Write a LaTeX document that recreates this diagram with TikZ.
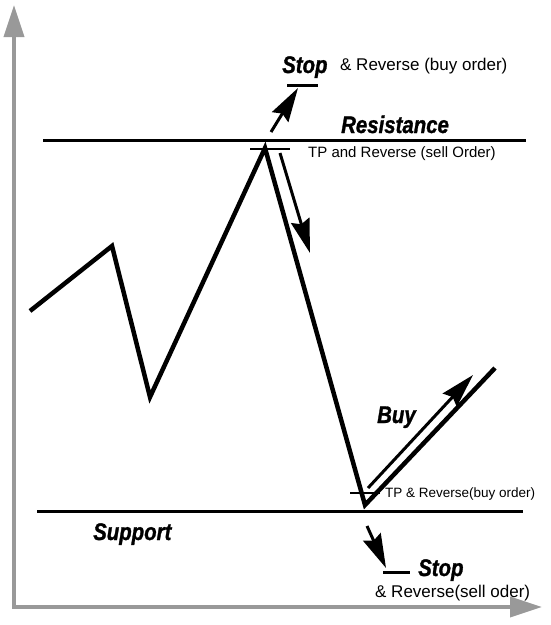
\documentclass[tikz,border=0pt]{standalone}
\usepackage{fontspec}
\setmainfont{Liberation Sans}
\newfontfamily\chartfont{Liberation Sans}[FakeStretch=0.85, FakeBold=1.2]
\usetikzlibrary{arrows.meta,positioning}

\begin{document}
\begin{tikzpicture}[
  x=1pt, y=-1pt,
  axis/.style={draw=black!40, line width=3.5pt, {Triangle[length=32pt,width=20pt]}-{Triangle[length=32pt,width=20pt]}},
  level/.style={line width=3pt},
  price/.style={line width=4.5pt, line join=miter},
  signal/.style={->, line width=3pt},
  mark line/.style={line width=2pt},
  title/.style={font=\chartfont\bfseries\itshape\fontsize{24}{26}\selectfont, inner sep=0pt, anchor=base west},
  note/.style={font=\fontsize{17}{20}\selectfont, inner sep=0pt, anchor=base west},
  >={Stealth[length=34pt,width=19pt,inset=4pt]}
]
  \useasboundingbox (0,0) rectangle (551,625);
  % Axes
  \coordinate (y top) at (14,5);
  \coordinate (origin) at (14,607);
  \coordinate (x end) at (542,607);
  \draw[axis] (y top) -- (origin) -- (x end);
  % Resistance and support levels
  \coordinate (res west) at (43,140);
  \coordinate (res east) at (526,140);
  \coordinate (sup west) at (37,511);
  \coordinate (sup east) at (523,511);
  \draw[level] (res west) -- (res east);
  \draw[level] (sup west) -- (sup east);
  % Price path
  \coordinate (p0) at (30,311);
  \coordinate (p1) at (112,246);
  \coordinate (p2) at (150,397);
  \coordinate (top) at (265,148);
  \coordinate (bottom) at (365,505);
  \coordinate (p5) at (495,368);
  \draw[price] (p0) -- (p1) -- (p2) -- (top) -- (bottom) -- (p5);
  % Order marks at the turning points
  \coordinate (top mark w) at (250,149);
  \coordinate (top mark e) at (290,149);
  \coordinate (bot mark w) at (350,493);
  \coordinate (bot mark e) at (380,493);
  \draw[mark line] (top mark w) -- (top mark e);
  \draw[mark line] (bot mark w) -- (bot mark e);
  % Stop bars
  \coordinate (stop1 w) at (287,85);
  \coordinate (stop1 e) at (318,85);
  \coordinate (stop2 w) at (383,572);
  \coordinate (stop2 e) at (410,572);
  \draw[level] (stop1 w) -- (stop1 e);
  \draw[level] (stop2 w) -- (stop2 e);
  % Signal arrows
  \coordinate (s1 from) at (271,132);
  \coordinate (s1 to) at (298,88);
  \coordinate (sell from) at (280,153);
  \coordinate (sell to) at (310,253);
  \coordinate (buy from) at (368,488);
  \coordinate (buy to) at (473,375);
  \coordinate (s2 from) at (367,526);
  \coordinate (s2 to) at (386,568);
  \draw[signal] (s1 from) -- (s1 to);
  \draw[signal] (sell from) -- (sell to);
  \draw[signal] (buy from) -- (buy to);
  \draw[signal] (s2 from) -- (s2 to);
  % Labels
  \node[title] (stop1) at (282,73) {Stop};
  \node[note] (rev1) at (340,70) {\& Reverse (buy order)};
  \node[title] (resistance) at (341,133) {Resistance};
  \node[note, font=\fontsize{15}{18}\selectfont] (tp1) at (308,157) {TP and Reverse (sell Order)};
  \node[title] (buy) at (377,423) {Buy};
  \node[note, font=\fontsize{13.5}{16}\selectfont] (tp2) at (385,497) {TP \& Reverse(buy order)};
  \node[title] (support) at (93,540) {Support};
  \node[title] (stop2) at (418,576) {Stop};
  \node[note] (rev2) at (375,597) {\& Reverse(sell oder)};
\end{tikzpicture}
\end{document}
